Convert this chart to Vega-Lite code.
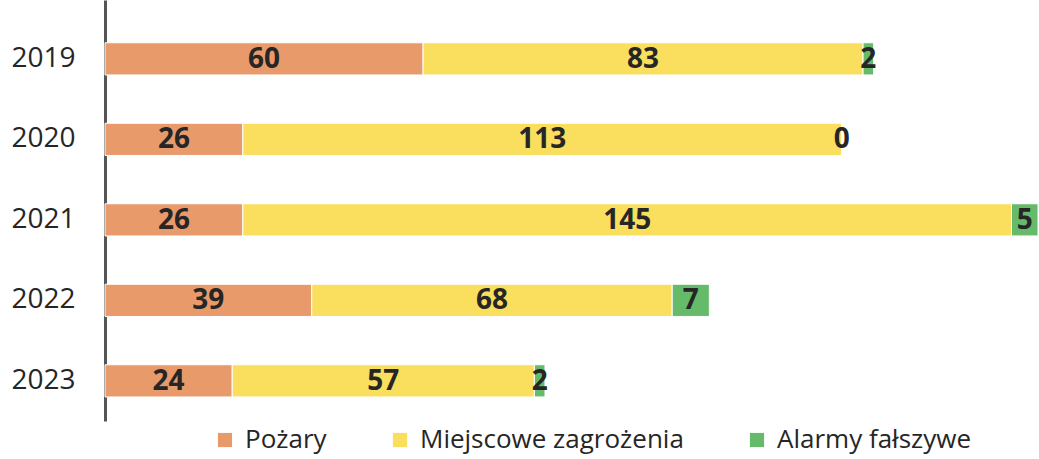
{
  "$schema": "https://vega.github.io/schema/vega-lite/v6.json",
  "width": 1039,
  "height": 459,
  "autosize": {"type": "fit", "contains": "padding"},
  "padding": {"left": 10, "right": 0, "top": 0, "bottom": 38},
  "config": {"view": {"stroke": null}, "font": "Open Sans"},
  "data": {
    "values": [
      {"rok": "2019", "kat": "Pożary", "o": 1, "v": 60},
      {"rok": "2019", "kat": "Miejscowe zagrożenia", "o": 2, "v": 83},
      {"rok": "2019", "kat": "Alarmy fałszywe", "o": 3, "v": 2},
      {"rok": "2020", "kat": "Pożary", "o": 1, "v": 26},
      {"rok": "2020", "kat": "Miejscowe zagrożenia", "o": 2, "v": 113},
      {"rok": "2020", "kat": "Alarmy fałszywe", "o": 3, "v": 0},
      {"rok": "2021", "kat": "Pożary", "o": 1, "v": 26},
      {"rok": "2021", "kat": "Miejscowe zagrożenia", "o": 2, "v": 145},
      {"rok": "2021", "kat": "Alarmy fałszywe", "o": 3, "v": 5},
      {"rok": "2022", "kat": "Pożary", "o": 1, "v": 39},
      {"rok": "2022", "kat": "Miejscowe zagrożenia", "o": 2, "v": 68},
      {"rok": "2022", "kat": "Alarmy fałszywe", "o": 3, "v": 7},
      {"rok": "2023", "kat": "Pożary", "o": 1, "v": 24},
      {"rok": "2023", "kat": "Miejscowe zagrożenia", "o": 2, "v": 57},
      {"rok": "2023", "kat": "Alarmy fałszywe", "o": 3, "v": 2}
    ]
  },
  "encoding": {
    "y": {
      "field": "rok",
      "type": "nominal",
      "sort": ["2019", "2020", "2021", "2022", "2023"],
      "scale": {"paddingInner": 0.6, "paddingOuter": 0.415, "align": 0.64},
      "axis": {
        "title": null,
        "ticks": false,
        "labelFontSize": 28,
        "labelColor": "#262626",
        "labelPadding": 30,
        "domainColor": "#555555",
        "domainWidth": 3,
        "labelFont": "Open Sans"
      }
    },
    "x": {
      "field": "v",
      "type": "quantitative",
      "stack": "zero",
      "scale": {"domain": [0, 176], "nice": false, "zero": true},
      "axis": null
    },
    "order": {"field": "o", "type": "quantitative"}
  },
  "layer": [
    {
      "mark": {"type": "bar", "stroke": "white", "strokeWidth": 1},
      "encoding": {
        "color": {
          "field": "kat",
          "type": "nominal",
          "sort": ["Pożary", "Miejscowe zagrożenia", "Alarmy fałszywe"],
          "scale": {
            "domain": ["Pożary", "Miejscowe zagrożenia", "Alarmy fałszywe"],
            "range": ["#E99A6B", "#FADF5E", "#66BB6A"]
          },
          "legend": {
            "title": null,
            "orient": "none",
            "direction": "horizontal",
            "legendX": 107,
            "legendY": 427,
            "symbolType": "square",
            "symbolSize": 200,
            "symbolStrokeWidth": 0,
            "labelFontSize": 26,
            "labelColor": "#262626",
            "labelFont": "Open Sans",
            "labelOffset": 7,
            "columnPadding": 60,
            "labelLimit": 400
          }
        }
      }
    },
    {
      "mark": {"type": "text", "fontSize": 28, "fontWeight": "bold", "color": "#262626", "baseline": "middle", "align": "center", "dy": 1},
      "encoding": {
        "x": {"field": "v", "type": "quantitative", "stack": "zero", "bandPosition": 0.5},
        "text": {"field": "v", "type": "quantitative"}
      }
    }
  ]
}
